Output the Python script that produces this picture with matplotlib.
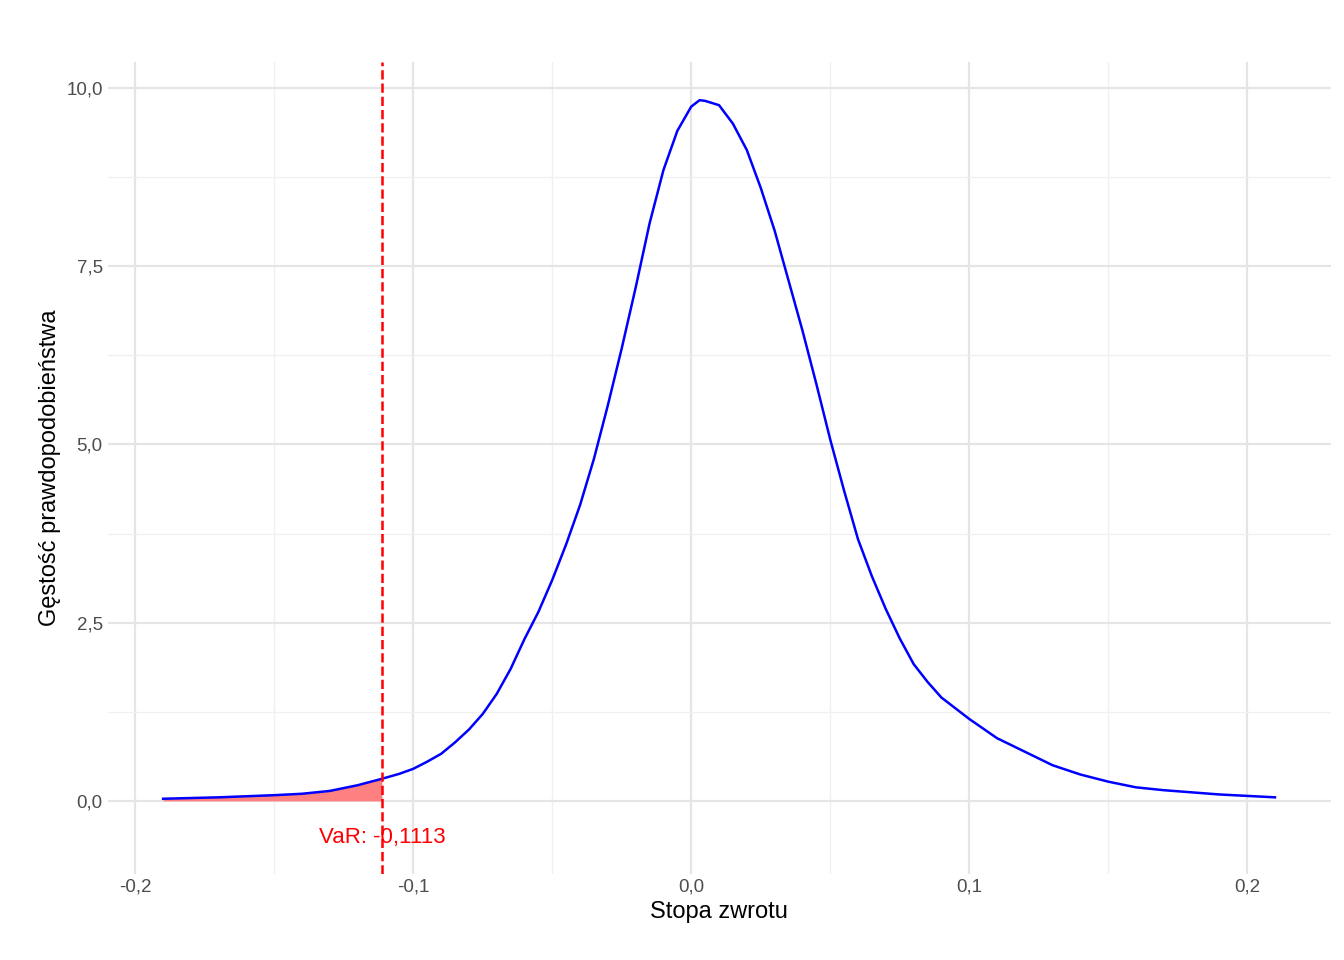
import numpy as np
import matplotlib.pyplot as plt
from matplotlib.ticker import FuncFormatter, MultipleLocator

plt.rcParams['font.family'] = ['Liberation Sans', 'DejaVu Sans']

x = [-0.19, -0.17, -0.16, -0.15, -0.14, -0.13, -0.12, -0.1113, -0.105, -0.1, -0.095,
     -0.09, -0.085, -0.08, -0.075, -0.07, -0.065, -0.06, -0.055, -0.05, -0.045,
     -0.04, -0.035, -0.03, -0.025, -0.02, -0.015, -0.01, -0.005, 0.0, 0.003,
     0.005, 0.01, 0.015, 0.02, 0.025, 0.03, 0.035, 0.04, 0.045, 0.05, 0.055,
     0.06, 0.065, 0.07, 0.075, 0.08, 0.085, 0.09, 0.1, 0.11, 0.12, 0.13, 0.14,
     0.15, 0.16, 0.17, 0.18, 0.19, 0.2, 0.21]
y = [0.03, 0.05, 0.065, 0.08, 0.1, 0.14, 0.22, 0.31, 0.38, 0.45, 0.55,
     0.66, 0.82, 1.0, 1.22, 1.5, 1.85, 2.27, 2.65, 3.1, 3.6,
     4.15, 4.8, 5.55, 6.35, 7.2, 8.1, 8.85, 9.4, 9.74, 9.83,
     9.82, 9.76, 9.5, 9.13, 8.6, 8.0, 7.3, 6.6, 5.85, 5.07, 4.35,
     3.67, 3.15, 2.69, 2.28, 1.92, 1.67, 1.45, 1.15, 0.88, 0.69, 0.5, 0.37,
     0.27, 0.19, 0.15, 0.12, 0.09, 0.07, 0.05]
var = -0.1113

x = np.array(x); y = np.array(y)
fig, ax = plt.subplots(figsize=(13.44, 9.6), dpi=100)
fig.subplots_adjust(left=0.08, right=0.99, top=0.935, bottom=0.09)
m = x <= var
ax.fill_between(x[m], 0, y[m], color='#ff8080', lw=0)
ax.plot(x, y, color='blue', lw=1.8)
ax.axvline(var, color='red', ls='--', lw=1.8)
ax.text(var, -0.52, 'VaR: -0,1113', color='red', fontsize=16, ha='center', va='center')

ax.set_xlim(-0.21, 0.23)
ax.set_ylim(-1.02, 10.36)
ax.xaxis.set_major_locator(MultipleLocator(0.1))
ax.xaxis.set_minor_locator(MultipleLocator(0.05))
ax.yaxis.set_major_locator(MultipleLocator(2.5))
ax.yaxis.set_minor_locator(MultipleLocator(1.25))
ax.xaxis.set_major_formatter(FuncFormatter(lambda v, p: f'{v:.1f}'.replace('.', ',')))
ax.yaxis.set_major_formatter(FuncFormatter(lambda v, p: f'{v:.1f}'.replace('.', ',')))
ax.grid(which='major', color='#e5e5e5', lw=1.6)
ax.grid(which='minor', color='#f0f0f0', lw=1)
ax.set_axisbelow(True)
for s in ax.spines.values():
    s.set_visible(False)
ax.tick_params(which='both', length=0, labelsize=13.5, labelcolor='#4d4d4d')
ax.set_xlabel('Stopa zwrotu', fontsize=17)
ax.set_ylabel('Gęstość prawdopodobieństwa', fontsize=17)
fig.savefig('out.png')
